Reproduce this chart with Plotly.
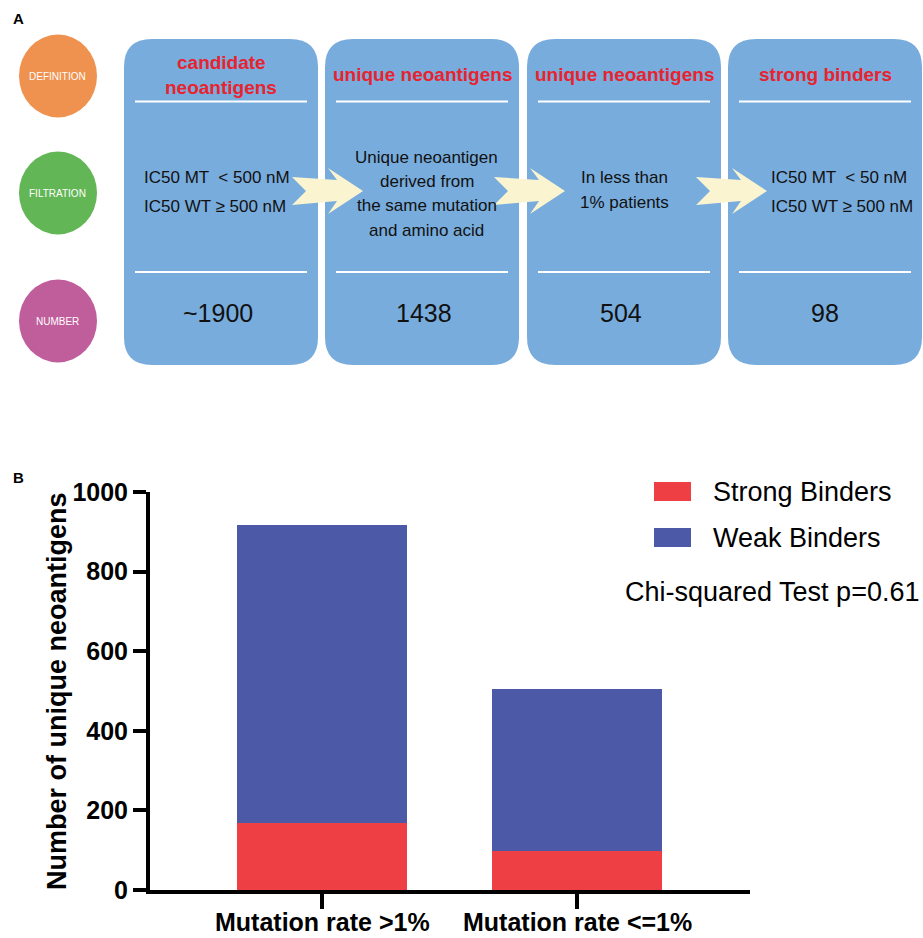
import plotly.graph_objects as go

# ---------------- data ----------------
categories = ["Mutation rate >1%", "Mutation rate <=1%"]
series_names = ["Strong Binders", "Weak Binders"]
strong_binders = [168, 98]
weak_binders = [750, 406]
y_ticks = [0, 200, 400, 600, 800, 1000]
stat_label = "Chi-squared Test p=0.61"

row_labels = ["DEFINITION", "FILTRATION", "NUMBER"]
step_titles = [["candidate", "neoantigens"], ["unique neoantigens"],
               ["unique neoantigens"], ["strong binders"]]
step_filters = [["IC50 MT  < 500 nM", "IC50 WT \u2265 500 nM"],
                ["Unique neoantigen", "derived from", "the same mutation", "and amino acid"],
                ["In less than", "1% patients"],
                ["IC50 MT  < 50 nM", "IC50 WT \u2265 500 nM"]]
step_counts = ["~1900", "1438", "504", "98"]

# ---------------- styling ----------------
W, H = 923, 938
FONT = "Arial, 'Liberation Sans', sans-serif"
RED = "#EE3F45"
BLUE = "#4B59A6"
BOX = "#78ACDC"
ARROW = "#FBF4D0"
HEAD_RED = "#E8232F"
ROW_COLORS = ["#F0924F", "#63B656", "#C05D9B"]


def X(px):
    return px / W


def Y(py):
    return 1 - py / H


fig = go.Figure()

# ---------------- panel B: stacked bars ----------------
for name, vals, col in zip(series_names, [strong_binders, weak_binders], [RED, BLUE]):
    fig.add_trace(go.Bar(x=categories, y=vals, name=name, width=0.667,
                         marker=dict(color=col, line=dict(width=0)),
                         showlegend=False))

fig.update_layout(
    width=W, height=H, autosize=False,
    margin=dict(l=0, r=0, t=0, b=0, pad=0, autoexpand=False),
    paper_bgcolor="white", plot_bgcolor="white",
    barmode="stack",
    showlegend=False,
    font=dict(family=FONT, color="black"),
    xaxis=dict(domain=[X(150), X(750)], type="category", range=[-0.675, 1.678],
               automargin=False, showticklabels=False,
               showline=True, linewidth=4, linecolor="black",
               ticks="outside", ticklen=15, tickwidth=4, tickcolor="black",
               showgrid=False, zeroline=False),
    yaxis=dict(domain=[Y(890), Y(492)], range=[0, 1000],
               automargin=False,
               tickvals=y_ticks, ticktext=[str(v) for v in y_ticks],
               showline=True, linewidth=4, linecolor="black",
               ticks="outside", ticklen=13, tickwidth=4, tickcolor="black",
               tickfont=dict(size=25, family=FONT, weight="bold"),
               showgrid=False, zeroline=False),
)

shapes = []
annotations = []

# category labels under the x ticks
for cat in categories:
    annotations.append(dict(text=cat, xref="x", yref="paper",
                            x=cat, y=Y(922), xanchor="center", yanchor="middle",
                            showarrow=False,
                            font=dict(size=25, family=FONT, weight="bold", color="black")))

# y-axis title, placed beside the tick labels
annotations.append(dict(text="Number of unique neoantigens", xref="paper", yref="paper",
                        x=X(57), y=Y(691), xanchor="center", yanchor="middle",
                        textangle=-90, showarrow=False,
                        font=dict(size=27, family=FONT, weight="bold", color="black")))

# legend drawn as swatches + labels
for i, (name, col) in enumerate(zip(series_names, [RED, BLUE])):
    top = 482 + i * 46
    shapes.append(dict(type="rect", xref="paper", yref="paper",
                       x0=X(654), x1=X(691), y0=Y(top), y1=Y(top + 19),
                       fillcolor=col, line=dict(width=0)))
    annotations.append(dict(text=name, xref="paper", yref="paper",
                            x=X(711), y=Y(top + 10), xanchor="left", yanchor="middle",
                            showarrow=False, font=dict(size=27, family=FONT, color="black")))

annotations.append(dict(text=stat_label, xref="paper", yref="paper",
                        x=X(921), y=Y(592), xanchor="right", yanchor="middle",
                        showarrow=False, font=dict(size=27, family=FONT, color="black")))

# panel letters
for letter, py in [("A", 18), ("B", 478)]:
    annotations.append(dict(text=letter, xref="paper", yref="paper",
                            x=X(11), y=Y(py), xanchor="left", yanchor="middle",
                            showarrow=False,
                            font=dict(size=15, family=FONT, weight="bold", color="black")))

# ---------------- panel A: workflow ----------------
# row markers
row_centers = [76, 193, 321]
for label, cy, col in zip(row_labels, row_centers, ROW_COLORS):
    shapes.append(dict(type="circle", xref="paper", yref="paper",
                       x0=X(19), x1=X(97), y0=Y(cy - 41.5), y1=Y(cy + 41.5),
                       fillcolor=col, line=dict(width=0)))
    annotations.append(dict(text=label, xref="paper", yref="paper",
                            x=X(58), y=Y(cy), xanchor="center", yanchor="middle",
                            showarrow=False, font=dict(size=10, family=FONT, color="white")))


def rounded_rect(x0, y0, x1, y1, r):
    pts = [
        f"M{X(x0 + r)},{Y(y0)}", f"L{X(x1 - r)},{Y(y0)}",
        f"Q{X(x1)},{Y(y0)} {X(x1)},{Y(y0 + r)}", f"L{X(x1)},{Y(y1 - r)}",
        f"Q{X(x1)},{Y(y1)} {X(x1 - r)},{Y(y1)}", f"L{X(x0 + r)},{Y(y1)}",
        f"Q{X(x0)},{Y(y1)} {X(x0)},{Y(y1 - r)}", f"L{X(x0)},{Y(y0 + r)}",
        f"Q{X(x0)},{Y(y0)} {X(x0 + r)},{Y(y0)}", "Z",
    ]
    return " ".join(pts)


def arrow_path(tx, ty):
    rel = [(-71, -14), (-26, -11), (-35, -23), (0, 0), (-35, 23),
           (-26, 10), (-71, 14), (-57, 0)]
    pts = [f"{X(tx + dx)},{Y(ty + dy)}" for dx, dy in rel]
    return "M" + " L".join(pts) + " Z"


box_lefts = [124, 325, 527, 728]
box_width = 194
box_top, box_bottom = 39, 365
filter_rows = [[177, 207], [157, 181.5, 206, 230.5], [177, 202], [177, 207]]
# (anchor, x position) of the filtration text in each box
filter_anchor = [("left", 142), ("center", 426.5), ("center", 624.5), ("left", 769)]
count_x = [218, 423.5, 621, 825]

for i, left in enumerate(box_lefts):
    right = left + box_width
    cx = (left + right) / 2
    shapes.append(dict(type="path", xref="paper", yref="paper",
                       path=rounded_rect(left, box_top, right, box_bottom, 28),
                       fillcolor=BOX, line=dict(width=0)))
    for ly in (101.5, 272):
        shapes.append(dict(type="line", xref="paper", yref="paper",
                           x0=X(left + 11), x1=X(right - 11), y0=Y(ly), y1=Y(ly),
                           line=dict(color="white", width=2)))
    title_lines = step_titles[i]
    t0 = 75 - (len(title_lines) - 1) * 12.5
    for k, line in enumerate(title_lines):
        annotations.append(dict(text=line, xref="paper", yref="paper",
                                x=X(cx), y=Y(t0 + 25 * k), xanchor="center", yanchor="middle",
                                showarrow=False,
                                font=dict(size=19, family=FONT, weight="bold", color=HEAD_RED)))
    anchor, fx = filter_anchor[i]
    for line, ly in zip(step_filters[i], filter_rows[i]):
        annotations.append(dict(text=line, xref="paper", yref="paper",
                                x=X(fx), y=Y(ly), xanchor=anchor, yanchor="middle",
                                showarrow=False, font=dict(size=17, family=FONT, color="#111111")))
    annotations.append(dict(text=step_counts[i], xref="paper", yref="paper",
                            x=X(count_x[i]), y=Y(313), xanchor="center", yanchor="middle",
                            showarrow=False, font=dict(size=25, family=FONT, color="#111111")))

# arrows between steps
for tx in [363, 565, 767]:
    shapes.append(dict(type="path", xref="paper", yref="paper",
                       path=arrow_path(tx, 191), fillcolor=ARROW, line=dict(width=0)))

fig.update_layout(shapes=shapes, annotations=annotations)
fig.write_html("out.html")
